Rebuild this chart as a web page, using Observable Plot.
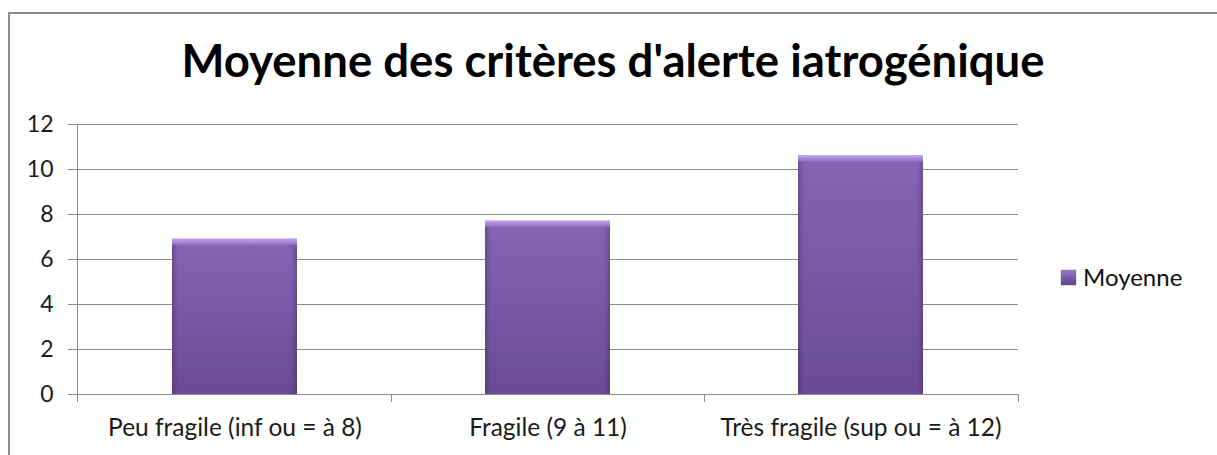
<!DOCTYPE html>
<html>
<head>
<meta charset="utf-8">
<script src="https://cdn.jsdelivr.net/npm/d3@7"></script>
<script src="https://cdn.jsdelivr.net/npm/@observablehq/plot@0.6"></script>
<style>
  body { margin: 0; background: #fff; }
  #wrap { position: relative; width: 1217px; height: 455px; overflow: hidden; font-family: Lato, "Noto Sans", sans-serif; }
  #border { position: absolute; left: 8px; top: 12px; width: 1400px; height: 700px; border: 2px solid #8c8c8c; box-sizing: border-box; }
  #chart { position: absolute; left: 0; top: 0; }
  #title { position: absolute; left: 0; width: 1226px; top: 35px; text-align: center; font-weight: bold; font-size: 45.5px; line-height: 50px; color: #000; white-space: nowrap; }
  #legend { position: absolute; left: 1061px; top: 263px; display: flex; align-items: center; font-size: 24px; color: #111; line-height: 28px; }
  #legend .sw { width: 15px; height: 15px; background: linear-gradient(#9a78c9, #5e4387); margin-right: 7px; box-shadow: 0 0 1px #555; }
</style>
</head>
<body>
<div id="wrap">
  <div id="border"></div>
  <div id="chart"></div>
  <div id="title"></div>
  <div id="legend"><div class="sw"></div><span id="legendText"></span></div>
</div>
<script>
const chartTitle = "Moyenne des critères d'alerte iatrogénique";
const seriesName = "Moyenne";
const categories = ["Peu fragile (inf ou = à 8)", "Fragile (9 à 11)", "Très fragile (sup ou = à 12)"];
const moyenne = [6.9, 7.7, 10.6];
const yTicks = [0, 2, 4, 6, 8, 10, 12];

const data = categories.map((c, i) => ({category: c, value: moyenne[i]}));

document.getElementById("title").textContent = chartTitle;
document.getElementById("legendText").textContent = seriesName;

function defs() {
  const g = d3.create("svg:g");
  const d = g.append("defs");
  const v = d.append("linearGradient").attr("id", "barGrad").attr("x1", 0).attr("y1", 0).attr("x2", 0).attr("y2", 1);
  v.append("stop").attr("offset", "0%").attr("stop-color", "#8764b6");
  v.append("stop").attr("offset", "100%").attr("stop-color", "#694b93");
  const h = d.append("linearGradient").attr("id", "edgeGrad").attr("x1", 0).attr("y1", 0).attr("x2", 1).attr("y2", 0);
  h.append("stop").attr("offset", "0%").attr("stop-color", "#3a2458").attr("stop-opacity", 0.35);
  h.append("stop").attr("offset", "5%").attr("stop-color", "#3a2458").attr("stop-opacity", 0);
  h.append("stop").attr("offset", "95%").attr("stop-color", "#3a2458").attr("stop-opacity", 0);
  h.append("stop").attr("offset", "100%").attr("stop-color", "#3a2458").attr("stop-opacity", 0.35);
  const t = d.append("linearGradient").attr("id", "topGrad").attr("x1", 0).attr("y1", 0).attr("x2", 0).attr("y2", 1);
  t.append("stop").attr("offset", "0%").attr("stop-color", "#c3a3ee");
  t.append("stop").attr("offset", "100%").attr("stop-color", "#9270c2");
  return g.node();
}

function axisLines(index, scales, values, dim) {
  const {width, height, marginLeft, marginRight, marginTop, marginBottom} = dim;
  const g = d3.create("svg:g").attr("stroke", "#8c8c8c").attr("stroke-width", 1).attr("shape-rendering", "crispEdges");
  const y0 = height - marginBottom;
  g.append("line").attr("x1", marginLeft + 0.5).attr("x2", marginLeft + 0.5).attr("y1", marginTop).attr("y2", y0 + 8);
  const n = categories.length;
  const step = (width - marginLeft - marginRight) / n;
  for (let i = 1; i <= n; i++) {
    const x = Math.round(marginLeft + i * step) + 0.5;
    g.append("line").attr("x1", x).attr("x2", x).attr("y1", y0).attr("y2", y0 + 8);
  }
  return g.node();
}

const plot = Plot.plot({
  width: 1217,
  height: 455,
  marginLeft: 77,
  marginRight: 199,
  marginTop: 124,
  marginBottom: 61,
  style: {fontFamily: "Lato, 'Noto Sans', sans-serif", fontSize: "23px", color: "#1a1a1a", background: "transparent"},
  x: {domain: categories, paddingInner: 0.6, paddingOuter: 0.3, label: null},
  y: {domain: [0, 12], ticks: yTicks, label: null},
  marks: [
    defs,
    Plot.ruleY(yTicks, {stroke: "#8c8c8c", strokeWidth: 1, insetLeft: -9, shapeRendering: "crispEdges"}),
    axisLines,
    Plot.axisY({ticks: yTicks, tickSize: 0, tickPadding: 24, label: null, fill: "#1a1a1a"}),
    Plot.axisX({tickSize: 0, tickPadding: 24, label: null, fill: "#1a1a1a", fontSize: 24.5}),
    Plot.barY(data, {x: "category", y: "value", fill: "url(#barGrad)"}),
    Plot.barY(data, {x: "category", y: "value", fill: "url(#edgeGrad)"}),
    Plot.barY(data, {x: "category", y1: "value", y2: "value", insetBottom: -6, fill: "url(#topGrad)"})
  ]
});
document.getElementById("chart").appendChild(plot);
</script>
</body>
</html>
